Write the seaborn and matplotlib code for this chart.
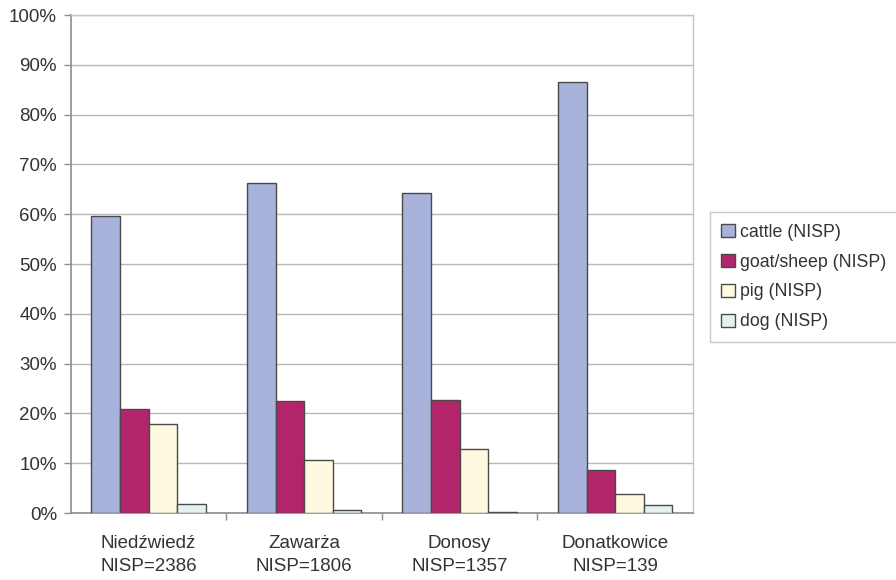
import matplotlib
matplotlib.use("Agg")
import matplotlib.pyplot as plt
import seaborn as sns
import pandas as pd
from matplotlib.ticker import PercentFormatter, FixedLocator

sites = ["Niedźwiedź\nNISP=2386", "Zawarża\nNISP=1806", "Donosy\nNISP=1357", "Donatkowice\nNISP=139"]
series = ["cattle (NISP)", "goat/sheep (NISP)", "pig (NISP)", "dog (NISP)"]
cattle = [59.6, 66.3, 64.2, 86.5]
goat_sheep = [20.9, 22.4, 22.7, 8.6]
pig = [17.9, 10.6, 12.8, 3.8]
dog = [1.8, 0.6, 0.3, 1.6]
colors = ["#A8B2DB", "#B3256A", "#FEF9DF", "#E2F2F2"]

rows = []
for name, vals in zip(series, [cattle, goat_sheep, pig, dog]):
    for s, v in zip(sites, vals):
        rows.append({"site": s, "species": name, "pct": v})
df = pd.DataFrame(rows)

sns.set_theme(style="white")
plt.rcParams["font.family"] = ["Liberation Sans", "DejaVu Sans"]

fig = plt.figure(figsize=(8.96, 5.80), dpi=100)
ax = fig.add_axes([0.079, 0.1155, 0.6944, 0.8585])

sns.barplot(data=df, x="site", y="pct", hue="species", order=sites, hue_order=series,
            palette=colors, width=0.735, edgecolor="#4a4a4a", linewidth=1.0,
            saturation=1, ax=ax, zorder=3)

ax.set_ylim(0, 100)
ax.set_xlim(-0.5, 3.5)
ax.yaxis.set_major_locator(FixedLocator(range(0, 101, 10)))
ax.yaxis.set_major_formatter(PercentFormatter(decimals=0))
ax.grid(axis="y", color="#b8b8b8", linewidth=1.0, zorder=0)
ax.set_axisbelow(True)
ax.set_xlabel("")
ax.set_ylabel("")

for side in ["left", "bottom"]:
    ax.spines[side].set_color("#8c8c8c")
    ax.spines[side].set_linewidth(1.2)
for side in ["right", "top"]:
    ax.spines[side].set_color("#c4c4c4")
    ax.spines[side].set_linewidth(1.0)

ax.tick_params(axis="y", which="major", length=5, width=1, color="#8c8c8c",
               labelsize=13.5, labelcolor="#333333", pad=5, left=True)
ax.tick_params(axis="x", which="major", length=0, labelsize=13.5, labelcolor="#333333", pad=16)
ax.set_xticks(range(len(sites)))
ax.set_xticklabels(sites, linespacing=1.45)
ax.set_xticks([0.5, 1.5, 2.5], minor=True)
ax.tick_params(axis="x", which="minor", length=5, width=1, color="#8c8c8c", bottom=True)

leg = ax.legend(loc="upper left", bbox_to_anchor=(1.027, 0.604), borderaxespad=0,
                frameon=True, fontsize=12.8, handlelength=0.75, handleheight=0.75,
                handletextpad=0.3, labelspacing=0.72, borderpad=0.65, fancybox=False,
                title=None)
leg.get_frame().set_edgecolor("#bdbdbd")
leg.get_frame().set_linewidth(1.0)
for t in leg.get_texts():
    t.set_color("#333333")

fig.savefig("out.png", dpi=100)
